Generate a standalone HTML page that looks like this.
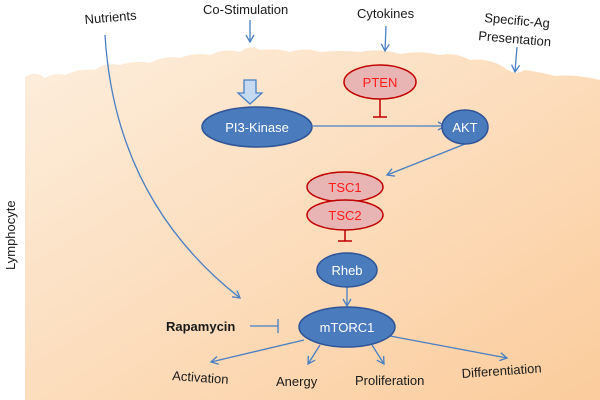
<!DOCTYPE html>
<html><head><style>
html,body{margin:0;padding:0;background:#fff;}
svg{display:block;font-family:"Liberation Sans",sans-serif;}
</style></head><body>
<svg width="600" height="400" viewBox="0 0 600 400">
<defs>
<linearGradient id="g" x1="0" y1="0" x2="1" y2="1">
<stop offset="0" stop-color="#fdeedd"/>
<stop offset="1" stop-color="#fbcc9c"/>
</linearGradient>
<marker id="a" markerWidth="10" markerHeight="10" refX="8" refY="5" orient="auto" markerUnits="userSpaceOnUse">
<path d="M1,1 L8,5 L1,9" fill="none" stroke="#4a7fc4" stroke-width="1.3"/>
</marker>
</defs>
<path d="M25,400 L25,77 Q35,70 45,78 Q55,72 65,75 Q80,68 95,70 Q105,62 120,65 Q135,60 150,63 Q165,55 180,58 Q195,52 210,55 Q225,48 240,52 Q250,44 260,50 Q275,48 290,52 Q305,47 320,52 Q340,50 360,52 Q380,48 400,54 Q420,50 440,55 Q455,52 470,60 Q490,58 505,68 Q515,76 525,70 Q540,72 555,76 Q575,74 600,80 L600,400 Z" fill="url(#g)"/>
<g fill="#1a1a1a" font-size="13">
<text x="85" y="24" transform="rotate(-5 85 24)" font-size="13">Nutrients</text>
<text x="203" y="14">Co-Stimulation</text>
<text x="357" y="18">Cytokines</text>
<text x="484" y="22" transform="rotate(5 484 22)">Specific-Ag</text>
<text x="478" y="40" transform="rotate(5 478 40)">Presentation</text>
<text transform="translate(15 270) rotate(-90)" font-size="13">Lymphocyte</text>
<text x="166" y="331" font-weight="bold">Rapamycin</text>
<text x="172" y="380" transform="rotate(4 172 380)">Activation</text>
<text x="276" y="386">Anergy</text>
<text x="355" y="385">Proliferation</text>
<text x="462" y="378" transform="rotate(-4 462 378)">Differentiation</text>
</g>
<g stroke="#4a7fc4" stroke-width="1.3" fill="none">
<path d="M105,35 Q115,200 240,298" marker-end="url(#a)"/>
<line x1="250" y1="20" x2="250" y2="42" marker-end="url(#a)"/>
<line x1="386" y1="26" x2="385" y2="51" marker-end="url(#a)"/>
<line x1="517" y1="47" x2="515" y2="72" marker-end="url(#a)"/>
<line x1="313" y1="126" x2="445" y2="126" marker-end="url(#a)"/>
<line x1="470" y1="142" x2="387" y2="175" marker-end="url(#a)"/>
<line x1="347" y1="287" x2="347" y2="306" marker-end="url(#a)"/>
<line x1="250" y1="326" x2="278" y2="326"/>
<line x1="278" y1="319" x2="278" y2="333"/>
<line x1="304" y1="340" x2="211" y2="362" marker-end="url(#a)"/>
<line x1="320" y1="345" x2="308" y2="364" marker-end="url(#a)"/>
<line x1="372" y1="345" x2="384" y2="364" marker-end="url(#a)"/>
<line x1="390" y1="336" x2="507" y2="358" marker-end="url(#a)"/>
</g>
<path d="M244,80 L256,80 L256,93 L262,93 L250,104 L238,93 L244,93 Z" fill="#c5d9f1" stroke="#4a7fc4" stroke-width="1.3"/>
<g stroke="#c00000" stroke-width="1.5">
<line x1="380" y1="99" x2="380" y2="117"/><line x1="373" y1="117" x2="387" y2="117"/>
<line x1="345" y1="230" x2="345" y2="241"/><line x1="338" y1="241" x2="352" y2="241"/>
</g>
<g stroke="#2f5597" stroke-width="1.5" fill="#4a7bbd">
<ellipse cx="257" cy="127" rx="55" ry="20"/>
<ellipse cx="465" cy="127" rx="23" ry="17"/>
<ellipse cx="347" cy="270" rx="30" ry="17"/>
<ellipse cx="347" cy="327" rx="48" ry="20"/>
</g>
<g stroke="#c00000" stroke-width="1.5" fill="#e9b4b4">
<ellipse cx="380" cy="82" rx="36" ry="17"/>
<ellipse cx="345" cy="187" rx="38" ry="15"/>
<ellipse cx="345" cy="215" rx="38" ry="15"/>
</g>
<g fill="#fff" font-size="13" text-anchor="middle">
<text x="257" y="132">PI3-Kinase</text>
<text x="465" y="132">AKT</text>
<text x="347" y="275">Rheb</text>
<text x="347" y="332">mTORC1</text>
</g>
<g fill="#ff1a1a" font-size="13" text-anchor="middle">
<text x="380" y="87">PTEN</text>
<text x="345" y="192">TSC1</text>
<text x="345" y="220">TSC2</text>
</g>
</svg>
</body></html>
